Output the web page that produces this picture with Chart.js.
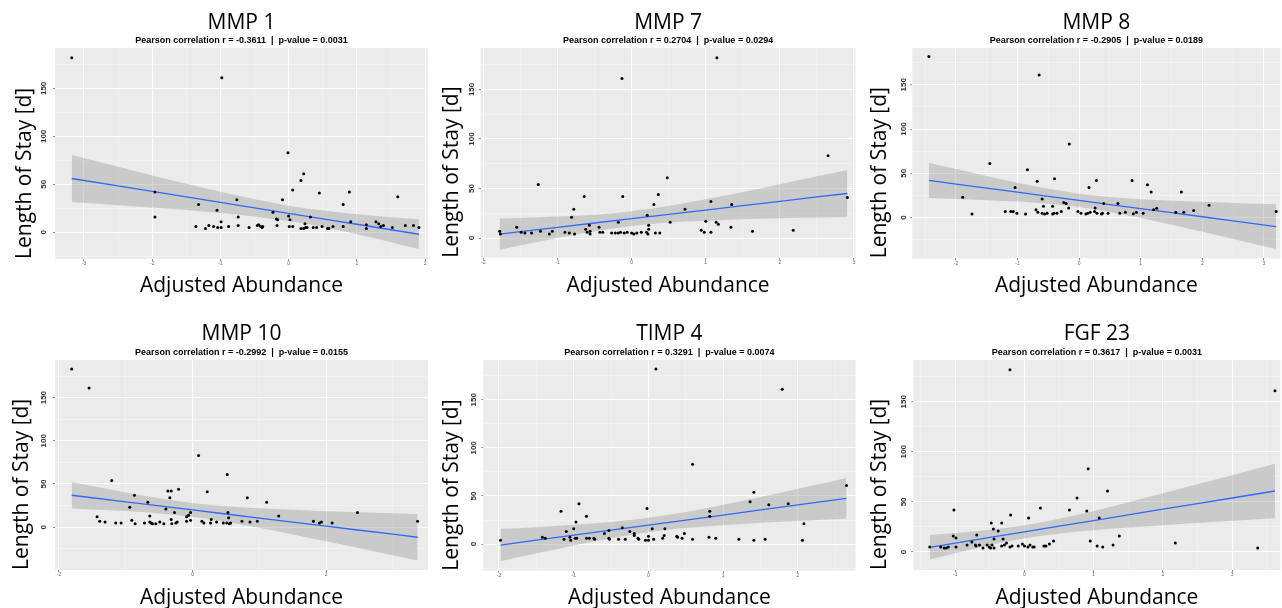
<!DOCTYPE html>
<html>
<head>
<meta charset="utf-8">
<script src="https://cdn.jsdelivr.net/npm/chart.js@4.4.1/dist/chart.umd.min.js"></script>
<style>
  body { margin: 0; background: #fff; width: 1282px; height: 608px; overflow: hidden; position: relative; }
  canvas { position: absolute; }
</style>
</head>
<body>
<script>
// Length of stay vs adjusted abundance - six ggplot-style panels

// MMP 1
const mmp1X = [-3.18,-0.98,-0.01,0.22,0.18,0.06,-0.09,0.45,0.89,1.60,0.80,-1.96,-1.96,-1.32,-0.76,-1.05,-0.74,-0.99,-0.74,-1.36,-1.22,-1.17,-1.10,-1.04,-0.99,-0.88,-0.58,-0.46,-0.44,-0.41,-0.39,-0.38,-0.23,-0.18,-0.16,-0.17,0.00,0.02,0.01,0.06,0.18,0.22,0.24,0.25,0.27,0.32,0.36,0.41,0.49,0.57,0.59,0.65,0.80,0.91,1.14,1.14,1.28,1.32,1.35,1.39,1.52,1.71,1.83,1.91];
const mmp1Y = [182,161,83,61,54,44,34,41,42,37,29,42,16,29,34,23,16,11,7,6,4,7,6,5,5,6,5,7,8,6,5,6,21,14,13,7,17,13,6,6,4,4,9,5,5,16,5,5,6,4,4,6,6,11,8,4,11,9,6,7,5,7,7,5];
const mmp1FitX = [-3.18,-2.5,-2,-1.5,-1,-0.5,0,0.5,1,1.5,1.91];
const mmp1Fit = [56.1,48.3,42.6,36.9,31.2,25.5,19.8,14.1,8.4,2.7,-2.0];
const mmp1Upper = [80.5,68.3,59.3,50.6,42.2,34.4,27.8,22.7,18.9,15.7,13.5];
const mmp1Lower = [31.5,28.3,25.9,23.2,20.2,16.6,11.8,5.5,-2.1,-10.3,-17.5];

// MMP 7
const mmp7X = [1.15,-0.13,2.65,0.48,-1.26,0.36,-0.64,-0.12,2.91,1.07,0.30,1.35,-0.78,0.72,-0.81,0.21,-0.18,0.52,1.14,1.17,1.00,-1.55,-1.78,-1.77,-1.49,-1.44,-1.35,-1.23,-1.11,-1.07,-0.90,-0.84,-0.77,-0.62,-0.60,-0.57,-0.56,-0.56,-0.44,-0.43,-0.39,-0.27,-0.22,-0.18,-0.15,-0.10,-0.06,0.00,0.03,0.07,0.13,0.20,0.22,0.23,0.23,0.32,0.38,0.94,0.98,1.07,1.34,1.63,2.18];
const mmp7Y = [182,161,83,61,54,44,42,42,41,37,34,34,29,29,21,23,16,16,16,14,17,11,7,4,6,5,5,7,4,7,6,5,4,9,6,13,7,4,11,6,6,5,5,5,6,5,6,5,4,5,6,6,4,9,13,5,5,8,6,6,11,7,8];
const mmp7FitX = [-1.78,-1.5,-1,-0.5,0,0.5,1,1.5,2,2.5,2.91];
const mmp7Fit = [4.0,6.5,10.9,15.2,19.6,24.0,28.3,32.7,37.1,41.5,45.0];
const mmp7Upper = [19.7,20.3,21.7,23.6,27.1,32.4,39.1,46.5,54.3,62.3,68.8];
const mmp7Lower = [-11.7,-7.3,0.1,6.8,12.1,15.6,17.5,18.9,19.9,20.7,21.2];

// MMP 8
const mmp8X = [-2.44,-0.65,-0.16,-1.45,-0.84,-0.68,-0.40,0.28,0.86,1.11,-1.04,0.16,1.17,1.66,-1.89,-0.60,-0.25,-0.21,0.40,0.63,2.11,-0.58,-0.43,-0.17,0.26,-0.70,1.26,1.21,-1.74,-1.20,-1.11,-1.07,-1.01,-0.87,-0.67,-0.60,-0.56,-0.52,-0.43,-0.41,-0.36,-0.29,-0.02,0.03,0.11,0.14,0.18,0.25,0.29,0.36,0.38,0.47,0.66,0.75,1.04,0.93,1.57,1.70,1.86,3.20,0.88];
const mmp8Y = [182,161,83,61,54,41,44,42,42,37,34,34,29,29,23,21,17,16,16,16,14,13,13,11,11,9,10.5,9,4,7,7,7,5,4,6,5,4,5,4,5,5,7,7,5,4,5,6,7,5,4,5,5,5,6,5,6,6,6,8,7,4.5];
const mmp8FitX = [-2.44,-2,-1.5,-1,-0.5,0,0.5,1,1.5,2,2.5,3.2];
const mmp8Fit = [42.0,37.9,33.3,28.7,24.1,19.5,14.8,10.2,5.6,1.0,-3.7,-10.1];
const mmp8Upper = [61.9,54.8,46.9,39.3,32.5,27.0,23.2,20.8,19.2,17.9,16.6,15.2];
const mmp8Lower = [22.1,21.0,19.7,18.1,15.7,12.0,6.4,-0.4,-8.0,-15.9,-24.0,-35.4];

// MMP 10
const mmp10X = [-1.81,-1.55,0.09,0.52,-1.21,-0.21,-0.37,-0.32,0.22,-0.87,-0.34,0.82,-0.67,1.11,-0.94,-0.40,-0.27,-0.03,0.53,2.47,-0.06,-0.64,1.29,-0.09,0.54,-1.43,-1.39,-1.31,-1.15,-1.07,-0.91,-0.86,-0.72,-0.64,-0.62,-0.60,-0.55,-0.49,-0.43,-0.32,-0.31,-0.25,-0.23,-0.09,-0.03,0.14,0.17,0.28,0.27,0.36,0.46,0.51,0.55,0.57,0.74,0.86,0.97,1.81,1.90,1.93,2.09,3.37];
const mmp10Y = [183,161,83,61,54,44,42,42,41,37,34,34,29,29,23,21,17,17,17,17,14,13,13,12,11,12,7,6,5,5,8,4,5,6,5,4,4,6,4,9,4,5,6,7,8,7,5,9,5,6,5,5,4,5,7,6,7,7,5,6,5,7];
const mmp10FitX = [-1.81,-1.5,-1,-0.5,0,0.5,1,1.5,2,2.5,3,3.37];
const mmp10Fit = [37.0,34.1,29.4,24.7,20.0,15.3,10.6,5.9,1.2,-3.5,-8.1,-11.6];
const mmp10Upper = [52.4,47.6,40.1,33.4,28.0,24.3,21.9,20.1,18.6,17.3,16.3,15.4];
const mmp10Lower = [21.6,20.6,18.7,16.0,12.0,6.3,-0.7,-8.3,-16.2,-24.3,-32.5,-38.6];

// TIMP 4
const timp4X = [0.10,1.79,0.59,2.65,1.41,1.36,-0.93,1.61,1.87,-0.02,-1.17,0.82,-0.83,0.82,-0.97,2.08,-1.00,-0.35,0.05,0.22,-0.53,-1.10,-0.25,-0.59,0.48,-0.19,-0.19,0.21,-1.42,-1.38,-1.13,-1.05,-1.04,-0.98,-0.96,-0.83,-0.79,-0.73,-0.72,-0.53,-0.52,-0.40,-0.31,-0.14,-0.13,-0.04,0.00,0.00,0.07,0.19,0.38,0.39,0.45,0.59,0.81,0.90,1.21,1.41,1.56,2.06,-1.98];
const timp4Y = [182,161,83,61,54,44,42,41,42,37,34,34,29,29,23,21,16,17,16,16,14,13,13,11,11,11,9,9,7,6,5,7,4,6,6,6,6,6,5,6,5,5,5,6,5,4,8,4,5,6,8,7,6,5,7,6,5,4,5,4,4];
const timp4FitX = [-1.98,-1.5,-1,-0.5,0,0.5,1,1.5,2,2.65];
const timp4Fit = [-1.0,4.0,9.3,14.5,19.8,25.0,30.2,35.5,40.7,47.5];
const timp4Upper = [15.8,17.6,20.0,22.9,27.3,33.4,40.8,48.9,57.5,68.8];
const timp4Lower = [-17.8,-9.6,-1.4,6.1,12.3,16.6,19.6,22.1,23.9,26.2];

// FGF 23
const fgf23X = [-0.21,3.62,0.92,1.20,0.76,0.23,0.65,0.90,-1.02,-0.20,0.06,1.08,-0.48,-0.33,-0.45,-0.38,-1.03,-0.99,-0.69,-0.31,-0.44,1.37,-0.76,-0.26,0.42,0.95,2.18,-1.37,-1.21,-1.16,-1.13,-1.10,-0.99,-0.83,-0.71,-0.70,-0.65,-0.60,-0.54,-0.51,-0.49,-0.47,-0.44,-0.33,-0.29,-0.21,-0.18,-0.09,-0.03,0.00,0.05,0.08,0.12,0.14,0.28,0.31,0.36,1.05,1.13,1.28,3.37];
const fgf23Y = [182,161,83,61,54,44,42,41,42,37,34,34,29,29,23,21,16,14,17,13,13,16,10,9,11,11,9,5,5,4,4,5,5,7,7,6,7,4,7,5,4,7,4,6,7,5,6,6,8,6,5,7,5,5,6,6,8,6,5,7,4];
const fgf23FitX = [-1.37,-1,-0.5,0,0.5,1,1.5,2,2.5,3,3.62];
const fgf23Fit = [4.7,8.9,14.5,20.1,25.8,31.4,37.0,42.7,48.3,53.9,60.9];
const fgf23Upper = [17.0,19.0,22.1,26.6,33.1,41.0,49.6,58.6,67.7,76.7,88.2];
const fgf23Lower = [-7.6,-1.2,6.9,13.6,18.5,21.8,24.4,26.8,28.9,31.1,33.7];

const panelTitles = ['MMP 1', 'MMP 7', 'MMP 8', 'MMP 10', 'TIMP 4', 'FGF 23'];
const pearsonR = ['-0.3611', '0.2704', '-0.2905', '-0.2992', '0.3291', '0.3617'];
const pValues = ['0.0031', '0.0294', '0.0189', '0.0155', '0.0074', '0.0031'];

// where each panel sits on the page (canvas box + axis sizes), px
const row1 = { tTop: 10.1, tBot: 0, sBot: 2.0, xTitlePad: 1.4 };
const row2 = { tTop: 21.7, tBot: 0.4, sBot: 2.0, xTitlePad: 0.1 };
const panels = [
  { xs: mmp1X, ys: mmp1Y, fx: mmp1FitX, fit: mmp1Fit, up: mmp1Upper, lo: mmp1Lower, row: row1,
    box: [0, 0, 430, 300], yW: 55, padR: 2, xH: 41, xr: [-3.425, 2.043], yr: [-27.8, 192], xStep: 1, yTitlePad: 12.4, yTickPad: 2.5 },
  { xs: mmp7X, ys: mmp7Y, fx: mmp7FitX, fit: mmp7Fit, up: mmp7Upper, lo: mmp7Lower, row: row1,
    box: [430, 0, 427, 300], yW: 50.7, padR: 0, xH: 42.3, xr: [-2.036, 3.02], yr: [-19.8, 191.7], xStep: 1, yTitlePad: 9.4, yTickPad: 0 },
  { xs: mmp8X, ys: mmp8Y, fx: mmp8FitX, fit: mmp8Fit, up: mmp8Upper, lo: mmp8Lower, row: row1,
    box: [857, 0, 425, 300], yW: 55.3, padR: 0, xH: 41.7, xr: [-2.709, 3.27], yr: [-45.9, 191.4], xStep: 1, yTitlePad: 10.4, yTickPad: 0 },
  { xs: mmp10X, ys: mmp10Y, fx: mmp10FitX, fit: mmp10Fit, up: mmp10Upper, lo: mmp10Lower, row: row2,
    box: [0, 300, 430, 311], yW: 55, padR: 2, xH: 41, xr: [-2.06, 3.526], yr: [-49.5, 193.4], xStep: 2, yTitlePad: 9.1, yTickPad: 2.5 },
  { xs: timp4X, ys: timp4Y, fx: timp4FitX, fit: timp4Fit, up: timp4Upper, lo: timp4Lower, row: row2,
    box: [430, 300, 427, 311], yW: 53.3, padR: 0, xH: 40.3, xr: [-2.21, 2.77], yr: [-27.7, 191.3], xStep: 1, yTitlePad: 9.1, yTickPad: 1 },
  { xs: fgf23X, ys: fgf23Y, fx: fgf23FitX, fit: fgf23Fit, up: fgf23Upper, lo: fgf23Lower, row: row2,
    box: [857, 300, 425, 311], yW: 56.3, padR: 0, xH: 41, xr: [-1.607, 3.70], yr: [-18.0, 191.6], xStep: 1, yTitlePad: 10.4, yTickPad: 1 }
];

Chart.defaults.font.family = 'Liberation Sans';

function isMult(v, m) {
  return Math.abs(v / m - Math.round(v / m)) < 1e-6;
}

// grey panel background like theme_grey
const panelBg = {
  id: 'panelBg',
  beforeDraw(chart) {
    const a = chart.chartArea, ctx = chart.ctx;
    ctx.save();
    ctx.fillStyle = '#EBEBEB';
    ctx.fillRect(a.left, a.top, a.right - a.left, a.bottom - a.top);
    ctx.restore();
  }
};

function gridOpts(major) {
  return {
    color: c => !c.tick ? 'rgba(0,0,0,0)' : isMult(c.tick.value, major) ? '#FFFFFF' : 'rgba(255,255,255,0.55)',
    lineWidth: c => c.tick && isMult(c.tick.value, major) ? 1.1 : 0.6,
    tickColor: c => c.tick && isMult(c.tick.value, major) ? '#555' : 'rgba(0,0,0,0)',
    tickWidth: 0.7,
    tickLength: 2
  };
}

function zip(xs, ys) {
  return xs.map((x, i) => ({ x: x, y: ys[i] }));
}

function makePanel(p, i) {
  const cv = document.createElement('canvas');
  const [left, top, w, h] = p.box;
  cv.width = w; cv.height = h;
  cv.style.left = left + 'px';
  cv.style.top = top + 'px';
  document.body.appendChild(cv);

  new Chart(cv, {
    type: 'scatter',
    data: {
      datasets: [
        { type: 'scatter', data: zip(p.xs, p.ys), pointRadius: 1.5, pointHoverRadius: 1.5,
          backgroundColor: '#000', borderWidth: 0 },
        { type: 'line', data: zip(p.fx, p.fit), borderColor: '#3366FF', borderWidth: 1.3,
          pointRadius: 0, fill: false },
        { type: 'line', data: zip(p.fx, p.up), borderColor: 'rgba(0,0,0,0)', pointRadius: 0,
          cubicInterpolationMode: 'monotone', fill: '+1', backgroundColor: 'rgba(153,153,153,0.4)' },
        { type: 'line', data: zip(p.fx, p.lo), borderColor: 'rgba(0,0,0,0)', pointRadius: 0,
          cubicInterpolationMode: 'monotone', fill: false }
      ]
    },
    options: {
      responsive: false,
      animation: false,
      events: [],
      layout: { padding: { top: 0, left: 0, right: p.padR, bottom: 0 } },
      plugins: {
        legend: { display: false },
        tooltip: { enabled: false },
        title: {
          display: true, text: panelTitles[i], fullSize: false, color: '#000',
          font: { family: 'Open Sans', size: 21, weight: 'normal' },
          padding: { top: p.row.tTop, bottom: p.row.tBot }
        },
        subtitle: {
          display: true, text: 'Pearson correlation r = ' + pearsonR[i] + '  |  p-value = ' + pValues[i],
          fullSize: false, color: '#000',
          font: { family: 'Liberation Sans', size: 9, weight: 'bold' },
          padding: { top: 0, bottom: p.row.sBot }
        }
      },
      scales: {
        x: {
          type: 'linear', min: p.xr[0], max: p.xr[1],
          border: { display: false },
          grid: gridOpts(p.xStep),
          ticks: {
            stepSize: p.xStep / 2, includeBounds: false, autoSkip: false,
            minRotation: 0, maxRotation: 0, padding: 0, color: '#666',
            font: { size: 5 },
            callback: v => isMult(v, p.xStep) ? String(Math.round(v)) : ''
          },
          title: {
            display: true, text: 'Adjusted Abundance', color: '#000',
            font: { family: 'Open Sans', size: 21 },
            padding: { top: 0, bottom: p.row.xTitlePad }
          },
          afterFit: s => { s.height = p.xH; }
        },
        y: {
          type: 'linear', min: p.yr[0], max: p.yr[1],
          border: { display: false },
          grid: gridOpts(50),
          ticks: {
            stepSize: 25, includeBounds: false, autoSkip: false,
            minRotation: 90, maxRotation: 90, crossAlign: 'center',
            padding: p.yTickPad, color: '#333',
            font: { size: 8, weight: 'bold' },
            callback: v => isMult(v, 50) ? String(Math.round(v)) : ''
          },
          title: {
            display: true, text: 'Length of Stay [d]', align: 'start', color: '#000',
            font: { family: 'Open Sans', size: 21 },
            padding: { top: p.yTitlePad, bottom: 0 }
          },
          afterFit: s => { s.width = p.yW; }
        }
      }
    },
    plugins: [panelBg]
  });
}

panels.forEach(makePanel);
</script>
</body>
</html>
